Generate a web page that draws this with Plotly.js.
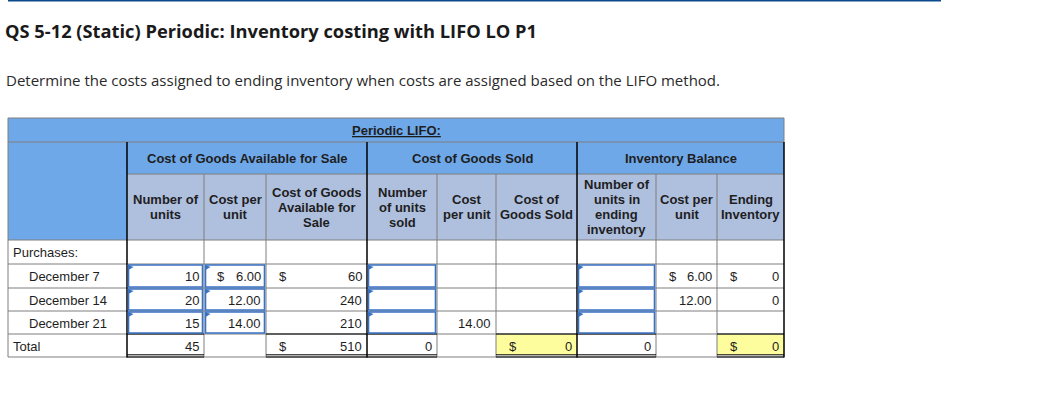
<!DOCTYPE html>
<html><head><meta charset="utf-8">
<script src="https://cdn.plot.ly/plotly-3.0.1.min.js"></script>
<style>html,body{margin:0;padding:0;background:#fff;}#chart{width:1042px;height:417px;}</style>
</head><body><div id="chart"></div>
<script>
// ---------- data ----------
const pageTitle = "QS 5-12 (Static) Periodic: Inventory costing with LIFO LO P1";
const pageSubtitle = "Determine the costs assigned to ending inventory when costs are assigned based on the LIFO method.";
const tableTitle = "Periodic LIFO:";
const groupHeaders = ["Cost of Goods Available for Sale", "Cost of Goods Sold", "Inventory Balance"];
const columnHeaders = [
  "Number of|units", "Cost per|unit", "Cost of Goods|Available for|Sale",
  "Number|of units|sold", "Cost|per unit", "Cost of|Goods Sold",
  "Number of|units in|ending|inventory", "Cost per|unit", "Ending|Inventory"
];
const rowLabels = ["Purchases:", "December 7", "December 14", "December 21", "Total"];
const unitsAvailable = [10, 20, 15];
const costPerUnitAvailable = [6.00, 12.00, 14.00];
const costAvailable = [60, 240, 210];
const unitsSold = [null, null, null];
const costPerUnitSold = [null, null, 14.00];
const costOfGoodsSold = [null, null, null];
const unitsEnding = [null, null, null];
const costPerUnitEnding = [6.00, 12.00, null];
const endingInventory = [0, 0, null];
const totalsRow = [45, null, 510, 0, null, 0, 0, null, 0];

// ---------- layout geometry / styles ----------
const X = [8, 127, 204, 266, 367, 437, 496, 577, 656, 717, 784];
const Y_TOP = 118, Y_G = 142, Y_H = 174, Y_D = 240;
const ROWS = [240, 264, 288, 311, 334, 357];
const BLUE = "#6ea8e9", LAV = "#afbfde", YEL = "#fdfd9e", GRID = "#7f7f7f", INBLUE = "#3a72c2";
const FONT = "Liberation Sans, Arial, sans-serif";
const TXT = "#1e1e1e";

const dataCols = [unitsAvailable, costPerUnitAvailable, costAvailable, unitsSold, costPerUnitSold, costOfGoodsSold, unitsEnding, costPerUnitEnding, endingInventory];
const colKind = ["int", "money2", "money0", "int", "money2", "money0", "int", "money2", "money0"];
const inputCols = [0, 1, 3, 6];
const totalCols = [0, 2, 3, 5, 6, 8];
const yellowCols = [5, 8];
const groupSpans = [[1, 4], [4, 7], [7, 10]];

const shapes = [];
const ann = [];
function rect(x0, y0, x1, y1, fill, line, lw) {
  shapes.push({type: "rect", xref: "x", yref: "y", x0, y0, x1, y1, fillcolor: fill || "rgba(0,0,0,0)",
    line: {color: line || "rgba(0,0,0,0)", width: line ? (lw || 1) : 0}, layer: "above"});
}
function seg(x0, y0, x1, y1, color, w) {
  shapes.push({type: "line", xref: "x", yref: "y", x0, y0, x1, y1, line: {color, width: w || 1}, layer: "above"});
}
function text(t, x, y, anchor, opts) {
  opts = opts || {};
  ann.push({xref: "x", yref: "y", x, y, text: t, showarrow: false, xanchor: anchor, yanchor: "middle",
    borderpad: 0, font: {family: opts.family || FONT, size: opts.size || 13, color: opts.color || TXT}});
}

// top rule
rect(8, 0, 941, 1.6, "#0c4a8c");

// backgrounds
rect(X[0], Y_TOP, X[10], Y_G, BLUE);
rect(X[0], Y_G, X[1], Y_D, BLUE);
rect(X[1], Y_G, X[10], Y_H, BLUE);
rect(X[1], Y_H, X[10], Y_D, LAV);
yellowCols.forEach(c => rect(X[c + 1], ROWS[4], X[c + 2], ROWS[5] - 2, YEL));

// grid lines
[Y_TOP, Y_G, Y_D].concat(ROWS.slice(1)).forEach(y => seg(X[0], y, X[10], y, GRID, 1));
seg(X[1], Y_H, X[10], Y_H, GRID, 1);
seg(X[0], Y_TOP, X[0], ROWS[5], GRID, 1);
[2, 3, 5, 6, 8, 9].forEach(i => seg(X[i], Y_H, X[i], ROWS[5], GRID, 1));
seg(X[10], Y_TOP, X[10], Y_G, GRID, 1);
[1, 4, 7, 10].forEach(i => seg(X[i], Y_G, X[i], ROWS[5] + 0.5, "#000", 1.5));
totalCols.forEach(c => {
  seg(X[c + 1], ROWS[4], X[c + 2], ROWS[4], "#000", 1.2);
  seg(X[c + 1], ROWS[5] - 2.2, X[c + 2], ROWS[5] - 2.2, "#000", 1);
  seg(X[c + 1], ROWS[5], X[c + 2], ROWS[5], "#000", 1);
});

// input boxes
inputCols.forEach(c => {
  for (let r = 1; r <= 3; r++) {
    const x0 = X[c + 1] + 1.5, x1 = X[c + 2] - 1.5, y0 = ROWS[r] + 1, y1 = ROWS[r + 1] - 1;
    rect(x0, y0, x1, y1, null, INBLUE, 1.6);
    shapes.push({type: "path", xref: "x", yref: "y", path: `M ${x0},${y0} L ${x0 + 5},${y0 + 2} L ${x0},${y0 + 5} Z`,
      fillcolor: INBLUE, line: {width: 0}, layer: "above"});
  }
});

// headers
text("<b><u>" + tableTitle + "</u></b>", (X[0] + X[10]) / 2, (Y_TOP + Y_G) / 2, "center");
groupHeaders.forEach((g, i) => text("<b>" + g + "</b>", (X[groupSpans[i][0]] + X[groupSpans[i][1]]) / 2, (Y_G + Y_H) / 2 + 0.5, "center"));
columnHeaders.forEach((h, c) => {
  const lines = h.split("|");
  const cy = (Y_H + Y_D) / 2;
  lines.forEach((ln, k) => text("<b>" + ln + "</b>", (X[c + 1] + X[c + 2]) / 2, cy + (k - (lines.length - 1) / 2) * 15, "center"));
});

// row labels
rowLabels.forEach((l, r) => {
  const indent = (r === 0 || r === 4) ? 12 : 27.5;
  text(l, indent, (ROWS[r] + ROWS[r + 1]) / 2 + 0.5, "left");
});

// cell values
function fmt(v, kind) { return kind === "money2" ? v.toFixed(2) : String(v); }
function putCell(c, r, v, showDollar) {
  if (v === null || v === undefined) return;
  const cy = (ROWS[r] + ROWS[r + 1]) / 2 + 0.5;
  text(fmt(v, colKind[c]), X[c + 2] - 4, cy, "right");
  if (showDollar && colKind[c] !== "int") text("$", X[c + 1] + 12, cy, "left");
}
dataCols.forEach((arr, c) => arr.forEach((v, i) => putCell(c, i + 1, v, i === 0)));
totalsRow.forEach((v, c) => putCell(c, 4, v, true));

const layout = {
  width: 1042, height: 417,
  margin: {l: 0, r: 0, t: 0, b: 0},
  paper_bgcolor: "#fff", plot_bgcolor: "#fff",
  showlegend: false,
  title: {text: "<b>" + pageTitle + "</b>", x: 5 / 1042, xanchor: "left", xref: "paper", y: 1 - 32 / 417, yanchor: "middle",
    font: {family: "Open Sans, sans-serif", size: 18.3, color: "#1a1a1a"}},
  xaxis: {range: [0, 1042], visible: false, fixedrange: true},
  yaxis: {range: [417, 0], visible: false, fixedrange: true},
  shapes: shapes,
  annotations: ann.concat([{xref: "x", yref: "y", x: 5, y: 80, xanchor: "left", yanchor: "middle", showarrow: false,
    text: pageSubtitle, borderpad: 0, font: {family: "Open Sans, sans-serif", size: 15, color: "#2a2a2a"}}])
};
Plotly.newPlot("chart", [{type: "scatter", x: [], y: [], mode: "markers"}], layout, {staticPlot: true, displayModeBar: false});
</script></body></html>
